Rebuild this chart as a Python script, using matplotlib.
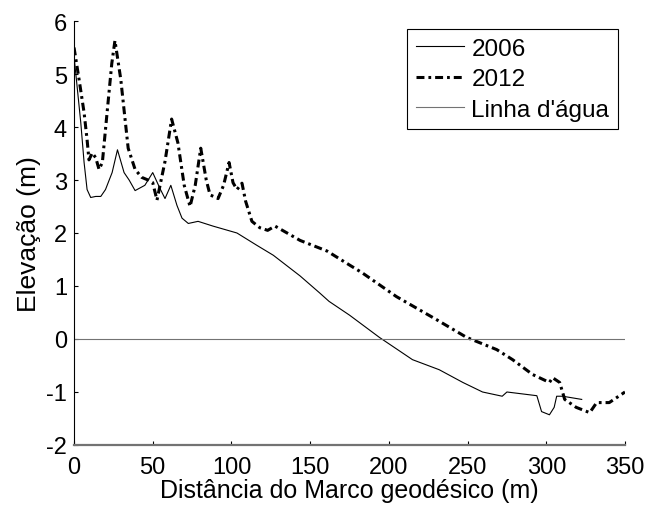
import matplotlib
matplotlib.use("Agg")
import matplotlib.pyplot as plt

plt.rcParams['font.family'] = ['Liberation Sans', 'DejaVu Sans']
plt.rcParams['axes.unicode_minus'] = False  # hifen simples como no original

# perfil 2006 (linha fina)
x2006 = [0, 1.5, 4.3, 6.4, 8.3, 10.6, 13.8, 17, 20, 24.2, 27.6, 31.8, 35, 38.8, 45, 50,
         54.6, 57.8, 61.5, 65.4, 68.6, 72.6, 78.8, 88.3, 103.5, 116, 126.6, 143.6, 156,
         162, 175, 194, 215, 232, 247, 259.5, 272, 275, 294, 297, 302, 305, 306.6, 310.4, 322.5]
y2006 = [5.33, 4.9, 4.08, 3.33, 2.82, 2.67, 2.69, 2.69, 2.82, 3.14, 3.57, 3.14, 3.0, 2.8, 2.9, 3.14,
         2.84, 2.65, 2.9, 2.52, 2.28, 2.18, 2.22, 2.13, 2.0, 1.77, 1.58, 1.19, 0.87,
         0.71, 0.45, 0.03, -0.39, -0.58, -0.82, -1.0, -1.08, -1.0, -1.07, -1.37, -1.43, -1.29, -1.08, -1.08, -1.14]

# perfil 2012 (traco-ponto)
x2012 = [0, 3.2, 6.4, 8.3, 9.5, 11.6, 13.8, 15.9, 18, 21, 24, 26, 29.7, 34.4, 38.8, 43, 47, 50,
         52.7, 57.8, 62, 66, 70, 73.7, 77, 80.5, 84, 86.4, 91.5, 95, 98.5, 101, 103.5, 106.7,
         109, 113, 118, 123, 127.7, 143.6, 160.7, 175.3, 183, 204.8, 230, 249.4, 268.5,
         278.6, 291.3, 302, 304, 308.5, 311.7, 319, 327.6, 332, 340, 350]
y2012 = [5.5, 4.9, 4.27, 3.76, 3.38, 3.51, 3.42, 3.2, 3.33, 4.27, 5.2, 5.63, 4.9, 3.6, 3.2, 3.05, 3.0, 2.95,
         2.62, 3.35, 4.15, 3.7, 2.9, 2.5, 2.9, 3.6, 3.0, 2.72, 2.65, 2.9, 3.33, 2.95, 2.82, 2.94,
         2.6, 2.22, 2.1, 2.05, 2.13, 1.86, 1.66, 1.39, 1.25, 0.8, 0.37, 0.03, -0.2,
         -0.39, -0.67, -0.82, -0.73, -0.82, -1.14, -1.29, -1.39, -1.2, -1.2, -1.0]

xagua = [0, 350]
yagua = [0, 0]

xticks = [0, 50, 100, 150, 200, 250, 300, 350]
yticks = [-2, -1, 0, 1, 2, 3, 4, 5, 6]

fig = plt.figure(figsize=(6.47, 5.06), dpi=100)
ax = fig.add_axes([0.1144, 0.1186, 0.8516, 0.8379])

ax.plot(x2006, y2006, color='black', lw=0.8, label='2006')
ax.plot(x2012, y2012, color='black', lw=2.2, linestyle=(0, (2.6, 1.3, 0.9, 1.3)), label='2012')
ax.plot(xagua, yagua, color='0.45', lw=0.8, label="Linha d'água")

ax.set_xlim(0, 350)
ax.set_ylim(-2, 6)
ax.set_xticks(xticks)
ax.set_yticks(yticks)
ax.tick_params(direction='in', length=3, labelsize=17)
ax.tick_params(axis='x', pad=8)
ax.tick_params(axis='y', pad=5)

ax.spines['top'].set_visible(False)
ax.spines['right'].set_visible(False)
ax.spines['left'].set_linewidth(0.8)
ax.spines['bottom'].set_color('0.45')
ax.spines['bottom'].set_linewidth(1.6)

ax.set_xlabel('Distância do Marco geodésico (m)', fontsize=18, labelpad=0)
ax.set_ylabel('Elevação (m)', fontsize=19, labelpad=4)

leg = ax.legend(loc='upper right', bbox_to_anchor=(0.987, 0.981), fontsize=17.5,
                frameon=True, fancybox=False, edgecolor='black', framealpha=1,
                handlelength=2.0, handletextpad=0.3, borderpad=0.35, labelspacing=0.35,
                borderaxespad=0)
leg.get_frame().set_linewidth(0.8)

fig.savefig('out.png', dpi=100)
